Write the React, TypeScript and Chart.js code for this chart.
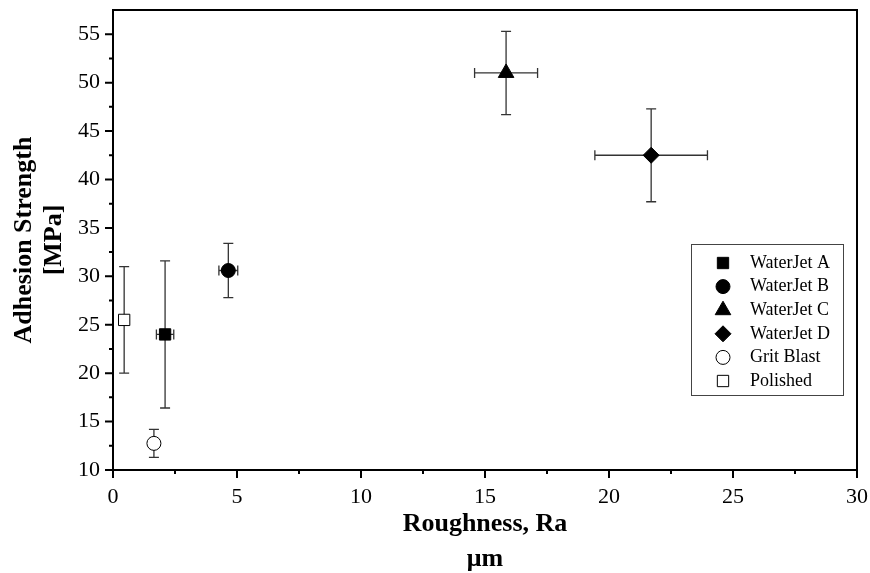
import React, { useEffect, useRef } from "react";
import { Chart, registerables } from "chart.js";
import { drawPoint } from "chart.js/helpers";

Chart.register(...registerables);

const seriesLabels = ["WaterJet A", "WaterJet B", "WaterJet C", "WaterJet D", "Grit Blast", "Polished"];
const roughness = [2.1, 4.65, 15.85, 21.7, 1.65, 0.45];
const roughnessErr = [0.35, 0.38, 1.27, 2.27, 0, 0];
const strength = [24.0, 30.6, 51.0, 42.5, 12.75, 25.5];
const strengthErr = [7.6, 2.8, 4.3, 4.8, 1.45, 5.5];
const pointStyles = ["rect", "circle", "triangle", "rectRot", "circle", "rect"];
const fillColors = ["#000", "#000", "#000", "#000", "#fff", "#fff"];
const radii = [8, 7, 9, 8, 7, 8];

const xTicks = [0, 5, 10, 15, 20, 25, 30];
const xMinorTicks = [2.5, 7.5, 12.5, 17.5, 22.5, 27.5];
const yTicks = [10, 15, 20, 25, 30, 35, 40, 45, 50, 55];
const yMinorTicks = [12.5, 17.5, 22.5, 27.5, 32.5, 37.5, 42.5, 47.5, 52.5];

const xTitle = ["Roughness, Ra", "\u03bcm"];
const yTitle = ["Adhesion Strength", "[MPa]"];

const SERIF = "'Liberation Serif', 'Times New Roman', serif";

const errorBarPlugin = {
  id: "errorBars",
  beforeDatasetsDraw(chart: any) {
    const ctx = chart.ctx;
    const xs = chart.scales.x;
    const ys = chart.scales.y;
    ctx.save();
    ctx.strokeStyle = "#333";
    ctx.lineWidth = 1.3;
    const cap = 5;
    for (let i = 0; i < roughness.length; i++) {
      const cx = xs.getPixelForValue(roughness[i]);
      const cy = ys.getPixelForValue(strength[i]);
      if (strengthErr[i] > 0) {
        const t = ys.getPixelForValue(strength[i] + strengthErr[i]);
        const b = ys.getPixelForValue(strength[i] - strengthErr[i]);
        ctx.beginPath();
        ctx.moveTo(cx, t); ctx.lineTo(cx, b);
        ctx.moveTo(cx - cap, t); ctx.lineTo(cx + cap, t);
        ctx.moveTo(cx - cap, b); ctx.lineTo(cx + cap, b);
        ctx.stroke();
      }
      if (roughnessErr[i] > 0) {
        const l = xs.getPixelForValue(roughness[i] - roughnessErr[i]);
        const r = xs.getPixelForValue(roughness[i] + roughnessErr[i]);
        ctx.beginPath();
        ctx.moveTo(l, cy); ctx.lineTo(r, cy);
        ctx.moveTo(l, cy - cap); ctx.lineTo(l, cy + cap);
        ctx.moveTo(r, cy - cap); ctx.lineTo(r, cy + cap);
        ctx.stroke();
      }
    }
    ctx.restore();
  },
};

const framePlugin = {
  id: "frameTicksTitlesLegend",
  afterDraw(chart: any) {
    const ctx = chart.ctx;
    const a = chart.chartArea;
    const xs = chart.scales.x;
    const ys = chart.scales.y;
    ctx.save();
    ctx.strokeStyle = "#000";
    ctx.lineWidth = 2;
    ctx.strokeRect(a.left, a.top, a.right - a.left, a.bottom - a.top);
    ctx.beginPath();
    xTicks.forEach((v) => {
      const p = xs.getPixelForValue(v);
      ctx.moveTo(p, a.bottom); ctx.lineTo(p, a.bottom + 8);
    });
    xMinorTicks.forEach((v) => {
      const p = xs.getPixelForValue(v);
      ctx.moveTo(p, a.bottom); ctx.lineTo(p, a.bottom + 4);
    });
    yTicks.forEach((v) => {
      const p = ys.getPixelForValue(v);
      ctx.moveTo(a.left, p); ctx.lineTo(a.left - 8, p);
    });
    yMinorTicks.forEach((v) => {
      const p = ys.getPixelForValue(v);
      ctx.moveTo(a.left, p); ctx.lineTo(a.left - 4, p);
    });
    ctx.stroke();

    // axis titles
    ctx.fillStyle = "#000";
    ctx.font = `bold 26px ${SERIF}`;
    ctx.textAlign = "center";
    ctx.textBaseline = "middle";
    const cx = (a.left + a.right) / 2;
    ctx.fillText(xTitle[0], cx, 524);
    ctx.fillText(xTitle[1], cx, 559);
    const cy = (a.top + a.bottom) / 2;
    ctx.save();
    ctx.translate(24, cy);
    ctx.rotate(-Math.PI / 2);
    ctx.fillText(yTitle[0], 0, 0);
    ctx.restore();
    ctx.save();
    ctx.translate(54, cy);
    ctx.rotate(-Math.PI / 2);
    ctx.fillText(yTitle[1], 0, 0);
    ctx.restore();

    // legend
    const bx = 691, by = 244, bw = 152, bh = 151;
    ctx.fillStyle = "#fff";
    ctx.fillRect(bx, by, bw, bh);
    ctx.strokeStyle = "#444";
    ctx.lineWidth = 1;
    ctx.strokeRect(bx + 0.5, by + 0.5, bw, bh);
    ctx.font = `18px ${SERIF}`;
    ctx.textAlign = "left";
    ctx.textBaseline = "middle";
    const step = 23.6;
    chart.data.datasets.forEach((ds: any, i: number) => {
      const y = by + 19 + i * step;
      ctx.fillStyle = ds.backgroundColor;
      ctx.strokeStyle = "#000";
      ctx.lineWidth = 1;
      drawPoint(ctx, { pointStyle: ds.pointStyle, radius: ds.pointRadius, rotation: 0, borderWidth: 1 }, bx + 32, y);
      ctx.fillStyle = "#000";
      ctx.fillText(ds.label, bx + 59, y);
    });
    ctx.restore();
  },
};

const zeroPad = (s: any) => {
  s.paddingTop = 0;
  s.paddingBottom = 0;
  s.paddingLeft = 0;
  s.paddingRight = 0;
};

export default function App() {
  const ref = useRef<HTMLCanvasElement | null>(null);
  useEffect(() => {
    if (!ref.current) return;
    const datasets = seriesLabels.map((label, i) => ({
      label,
      data: [{ x: roughness[i], y: strength[i] }],
      pointStyle: pointStyles[i],
      pointRadius: radii[i],
      pointHoverRadius: radii[i],
      backgroundColor: fillColors[i],
      borderColor: "#000",
      borderWidth: 1,
    }));
    const chart = new Chart(ref.current, {
      type: "scatter",
      data: { datasets },
      options: {
        animation: false,
        responsive: true,
        maintainAspectRatio: false,
        layout: { padding: { top: 3, right: 13, left: 0, bottom: 0 } },
        plugins: { legend: { display: false }, tooltip: { enabled: false } },
        scales: {
          x: {
            type: "linear",
            min: 0,
            max: 30,
            grid: { display: false, drawTicks: false },
            border: { display: false },
            afterBuildTicks: (s: any) => { s.ticks = xTicks.map((v) => ({ value: v })); },
            afterFit: (s: any) => { s.height = 103; zeroPad(s); },
            ticks: {
              autoSkip: false,
              maxRotation: 0,
              padding: 14,
              color: "#000",
              font: { family: SERIF, size: 22 },
            },
          },
          y: {
            type: "linear",
            min: 10,
            max: 57.5,
            grid: { display: false, drawTicks: false },
            border: { display: false },
            afterBuildTicks: (s: any) => { s.ticks = yTicks.map((v) => ({ value: v })); },
            afterFit: (s: any) => { s.width = 113; zeroPad(s); },
            ticks: {
              autoSkip: false,
              padding: 13,
              color: "#000",
              font: { family: SERIF, size: 22 },
            },
          },
        },
      },
      plugins: [errorBarPlugin, framePlugin],
    } as any);
    return () => chart.destroy();
  }, []);
  return (
    <div style={{ position: "absolute", left: 0, top: 0, width: 870, height: 573, background: "#fff" }}>
      <canvas ref={ref} />
    </div>
  );
}
